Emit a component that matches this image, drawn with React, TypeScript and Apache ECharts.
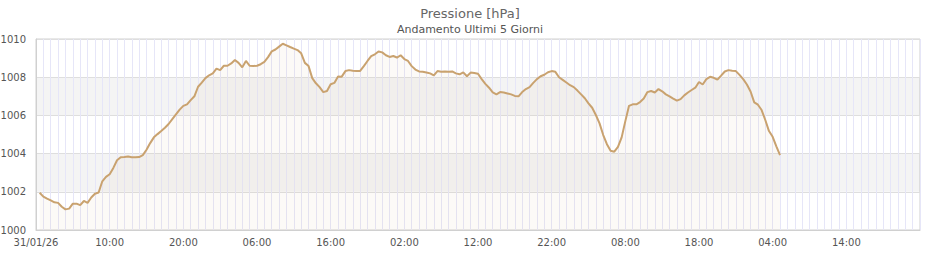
import React, { useEffect, useRef } from "react";
import * as echarts from "echarts";

const TITLE = "Pressione [hPa]";
const SUBTITLE = "Andamento Ultimi 5 Giorni";

// x tick labels every 10 hours starting 31/01/26 00:00
const xTickLabels = [
  "31/01/26", "10:00", "20:00", "06:00", "16:00", "02:00",
  "12:00", "22:00", "08:00", "18:00", "04:00", "14:00",
];

// sampling: every half hour, starting at 00:30 of 31/01/26
const startHour = 0.5;
const stepHours = 0.5;

// pressure readings (hPa)
const pressure = [
  1001.95, 1001.75, 1001.64, 1001.55, 1001.45, 1001.42, 1001.22, 1001.08, 1001.12, 1001.38,
  1001.38, 1001.30, 1001.52, 1001.42, 1001.70, 1001.90, 1001.96, 1002.55, 1002.78, 1002.92,
  1003.25, 1003.65, 1003.81, 1003.82, 1003.85, 1003.81, 1003.81, 1003.82, 1003.92, 1004.20,
  1004.55, 1004.85, 1005.02, 1005.18, 1005.35, 1005.55, 1005.80, 1006.05, 1006.30, 1006.50,
  1006.58, 1006.80, 1007.00, 1007.50, 1007.72, 1007.95, 1008.10, 1008.20, 1008.45, 1008.37,
  1008.60, 1008.60, 1008.72, 1008.90, 1008.75, 1008.52, 1008.85, 1008.60, 1008.59, 1008.60,
  1008.68, 1008.80, 1009.05, 1009.35, 1009.45, 1009.60, 1009.75, 1009.67, 1009.58, 1009.50,
  1009.42, 1009.25, 1008.75, 1008.58, 1007.95, 1007.68, 1007.48, 1007.22, 1007.28, 1007.63,
  1007.70, 1008.04, 1008.03, 1008.32, 1008.37, 1008.34, 1008.32, 1008.33, 1008.58, 1008.85,
  1009.10, 1009.20, 1009.35, 1009.30, 1009.15, 1009.06, 1009.11, 1009.03, 1009.15, 1008.95,
  1008.85, 1008.58, 1008.40, 1008.30, 1008.28, 1008.25, 1008.20, 1008.10, 1008.32, 1008.28,
  1008.30, 1008.28, 1008.30, 1008.20, 1008.15, 1008.25, 1008.05, 1008.24, 1008.22, 1008.18,
  1007.90, 1007.65, 1007.45, 1007.20, 1007.10, 1007.22, 1007.20, 1007.15, 1007.10, 1007.02,
  1007.00, 1007.22, 1007.38, 1007.48, 1007.70, 1007.90, 1008.05, 1008.13, 1008.26, 1008.32,
  1008.28, 1008.00, 1007.86, 1007.72, 1007.58, 1007.48, 1007.30, 1007.10, 1006.90, 1006.63,
  1006.40, 1006.02, 1005.58, 1004.97, 1004.49, 1004.15, 1004.10, 1004.35, 1004.85, 1005.70,
  1006.50, 1006.58, 1006.58, 1006.70, 1006.88, 1007.22, 1007.28, 1007.20, 1007.38, 1007.26,
  1007.10, 1007.00, 1006.88, 1006.77, 1006.85, 1007.05, 1007.20, 1007.33, 1007.45, 1007.75,
  1007.62, 1007.90, 1008.02, 1007.97, 1007.87, 1008.08, 1008.30, 1008.37, 1008.34, 1008.32,
  1008.12, 1007.90, 1007.62, 1007.25, 1006.68, 1006.56, 1006.28, 1005.76, 1005.18, 1004.88,
  1004.38, 1003.92,
];

const Y_MIN = 1000;
const Y_MAX = 1010;
const Y_STEP = 2;
const X_MAX_HOURS = 120;
const X_LABEL_STEP = 10;

export default function App() {
  const ref = useRef<HTMLDivElement>(null);

  useEffect(() => {
    if (!ref.current) return;
    const chart = echarts.init(ref.current, undefined, { renderer: "svg" });
    const seriesData = pressure.map((p, i) => [startHour + i * stepHours, p]);
    const font = "DejaVu Sans";
    chart.setOption({
      animation: false,
      title: {
        text: TITLE,
        subtext: SUBTITLE,
        left: "center",
        top: 2,
        itemGap: 4,
        textStyle: { fontFamily: font, fontSize: 13, fontWeight: "normal", color: "#666" },
        subtextStyle: { fontFamily: font, fontSize: 11, color: "#555" },
      },
      grid: {
        left: 36,
        right: 20,
        top: 39,
        bottom: 30,
        containLabel: false,
        outerBoundsMode: "none",
        show: true,
        borderColor: "#d0d0d0",
        borderWidth: 1,
        backgroundColor: "transparent",
      },
      xAxis: {
        type: "value",
        min: 0,
        max: X_MAX_HOURS,
        interval: X_LABEL_STEP,
        axisLine: { show: true, lineStyle: { color: "#d0d0d0" } },
        axisTick: { show: false },
        minorTick: { show: false, splitNumber: 10 },
        axisLabel: {
          fontFamily: font,
          fontSize: 10,
          color: "#555",
          margin: 7,
          showMaxLabel: false,
          formatter: (v: number) => {
            const idx = Math.round(v / X_LABEL_STEP);
            return xTickLabels[idx] ?? "";
          },
        },
        splitLine: { show: true, lineStyle: { color: "#e6e6f8", width: 1 } },
        minorSplitLine: { show: true, lineStyle: { color: "#e6e6f8", width: 1 } },
      },
      yAxis: {
        type: "value",
        min: Y_MIN,
        max: Y_MAX,
        interval: Y_STEP,
        axisLine: { show: true, lineStyle: { color: "#d0d0d0" } },
        axisTick: { show: false },
        axisLabel: {
          fontFamily: font,
          fontSize: 10,
          color: "#555",
          margin: 10,
          formatter: (v: number) => String(v),
        },
        splitLine: { show: true, lineStyle: { color: "#dedede", width: 1 } },
        splitArea: {
          show: true,
          areaStyle: { color: ["rgba(255,255,255,0)", "rgba(0,0,0,0.045)"] },
        },
      },
      series: [
        {
          type: "line",
          data: seriesData,
          showSymbol: false,
          symbol: "none",
          lineStyle: { color: "#c9a26f", width: 2 },
          areaStyle: { color: "rgba(215,175,130,0.09)", origin: "start" },
          z: 3,
        },
      ],
    });
    return () => chart.dispose();
  }, []);

  return (
    <div
      ref={ref}
      style={{ position: "fixed", left: 0, top: 0, width: 940, height: 260, background: "#fff" }}
    />
  );
}
